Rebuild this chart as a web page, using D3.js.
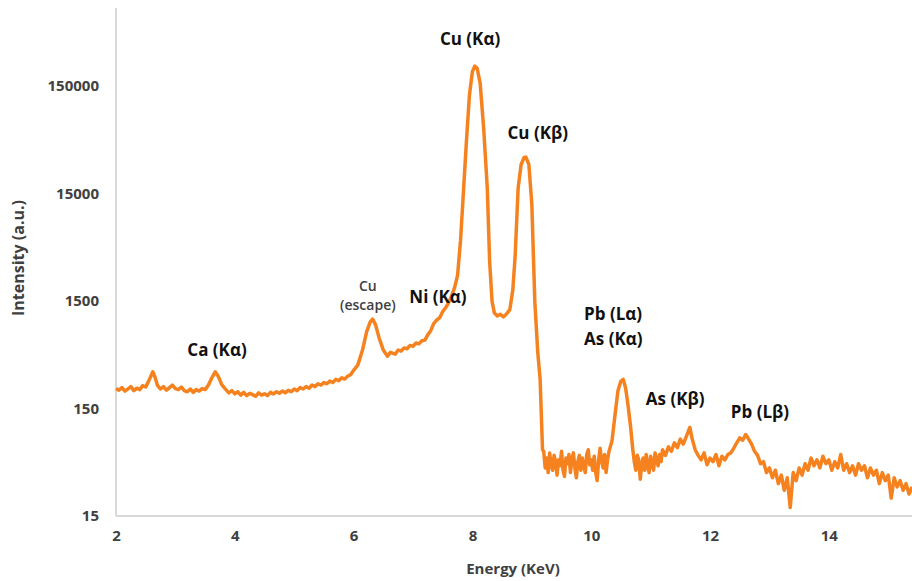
<!DOCTYPE html>
<html>
<head>
<meta charset="utf-8">
<script src="https://cdn.jsdelivr.net/npm/d3@7"></script>
<style>
  body { margin: 0; background: #fff; }
  svg { display: block; font-family: "Open Sans", sans-serif; }
</style>
</head>
<body>
<script>
// spectrum, [energy keV, intensity]
var lowRegion = [
  [2.00, 230], [2.05, 222], [2.10, 235], [2.15, 218], [2.20, 228], [2.25, 240],
  [2.30, 220], [2.35, 232], [2.40, 225], [2.45, 245], [2.50, 238], [2.55, 270],
  [2.62, 330], [2.66, 290], [2.70, 245], [2.75, 228], [2.80, 240], [2.85, 222],
  [2.90, 235], [2.95, 248], [3.00, 230], [3.05, 225], [3.10, 238], [3.15, 220],
  [3.20, 215], [3.25, 228], [3.30, 212], [3.35, 225], [3.40, 218], [3.45, 230],
  [3.50, 225], [3.55, 245], [3.60, 280], [3.67, 330], [3.72, 300], [3.78, 250],
  [3.85, 225], [3.90, 210], [3.95, 220], [4.00, 205], [4.05, 215], [4.10, 200],
  [4.15, 212], [4.20, 198], [4.25, 208], [4.30, 202], [4.35, 195], [4.40, 210],
  [4.45, 200], [4.50, 206], [4.55, 198], [4.60, 212], [4.65, 205], [4.70, 215],
  [4.75, 208], [4.80, 218], [4.85, 210], [4.90, 222], [4.95, 215], [5.00, 228],
  [5.05, 220], [5.10, 235], [5.15, 228], [5.20, 240], [5.25, 232], [5.30, 248],
  [5.35, 240], [5.40, 255], [5.45, 248], [5.50, 262], [5.55, 255], [5.60, 270],
  [5.65, 262], [5.70, 280], [5.75, 272], [5.80, 290], [5.85, 282], [5.90, 300],
  [5.95, 310], [6.00, 340]
];

var cuRegion = [
  [6.07, 380], [6.15, 525], [6.22, 780], [6.28, 960], [6.32, 1020], [6.37, 900],
  [6.43, 680], [6.50, 525], [6.57, 460], [6.62, 500], [6.70, 480], [6.75, 525],
  [6.80, 515], [6.85, 550], [6.90, 540], [6.95, 580], [7.00, 570], [7.05, 610],
  [7.10, 600], [7.15, 640], [7.20, 650], [7.25, 730], [7.30, 800], [7.35, 930],
  [7.40, 1000], [7.45, 1050], [7.50, 1200], [7.55, 1300], [7.60, 1450], [7.65, 1670],
  [7.70, 2000], [7.75, 2600], [7.80, 5500], [7.85, 16000], [7.90, 47000], [7.95, 124000],
  [8.00, 205000], [8.04, 230000], [8.08, 220000], [8.13, 160000], [8.19, 60000],
  [8.25, 17000], [8.29, 3500], [8.33, 1500], [8.37, 1160], [8.42, 1090], [8.47, 1130],
  [8.52, 1070], [8.57, 1130], [8.63, 1250], [8.68, 1900], [8.72, 4000], [8.77, 17000],
  [8.82, 28000], [8.87, 32500], [8.90, 32800], [8.95, 28000], [9.00, 12000],
  [9.05, 1500], [9.10, 500], [9.14, 280], [9.18, 62]
];

var highRegion = [
  [9.200, 60], [9.225, 42], [9.250, 52], [9.275, 38], [9.300, 58], [9.325, 45],
  [9.350, 40], [9.375, 55], [9.400, 48], [9.425, 36], [9.450, 50], [9.475, 44],
  [9.500, 60], [9.525, 40], [9.550, 35], [9.575, 52], [9.600, 46], [9.625, 56],
  [9.650, 38], [9.675, 50], [9.700, 58], [9.725, 42], [9.750, 34], [9.775, 48],
  [9.800, 55], [9.825, 40], [9.850, 52], [9.875, 44], [9.900, 38], [9.925, 56],
  [9.950, 62], [9.975, 45], [10.000, 50], [10.025, 40], [10.050, 54], [10.075, 38],
  [10.100, 32], [10.125, 50], [10.150, 64], [10.175, 48], [10.200, 42], [10.225, 56],
  [10.250, 38], [10.275, 50], [10.300, 60], [10.35, 75], [10.40, 130], [10.45, 220],
  [10.50, 270], [10.54, 280], [10.58, 230], [10.62, 160], [10.66, 105],
  [10.700, 62], [10.725, 48], [10.750, 40], [10.775, 55], [10.800, 50], [10.825, 33],
  [10.850, 45], [10.875, 52], [10.900, 40], [10.925, 56], [10.950, 44], [10.975, 38],
  [11.000, 54], [11.025, 46], [11.050, 40], [11.075, 58], [11.100, 50], [11.125, 44],
  [11.150, 56], [11.175, 48], [11.200, 62], [11.25, 55], [11.30, 66], [11.35, 60],
  [11.40, 72], [11.45, 65], [11.50, 78], [11.55, 70], [11.60, 82], [11.66, 100],
  [11.70, 78], [11.75, 62], [11.80, 55], [11.85, 50], [11.90, 58], [11.95, 45],
  [12.00, 52], [12.05, 48], [12.10, 56], [12.15, 44], [12.20, 54], [12.25, 50],
  [12.30, 56], [12.35, 58], [12.40, 64], [12.45, 72], [12.50, 80], [12.55, 76],
  [12.60, 86], [12.65, 78], [12.70, 70], [12.75, 60], [12.80, 55], [12.85, 46],
  [12.90, 48], [12.95, 38], [13.00, 42], [13.05, 34], [13.10, 40], [13.15, 30],
  [13.20, 36], [13.25, 26], [13.30, 34], [13.35, 18], [13.40, 38], [13.45, 32],
  [13.50, 42], [13.55, 36], [13.60, 46], [13.65, 40], [13.70, 52], [13.75, 44],
  [13.80, 50], [13.85, 42], [13.90, 54], [13.95, 46], [14.00, 50], [14.05, 40],
  [14.10, 48], [14.15, 42], [14.20, 56], [14.25, 40], [14.30, 46], [14.35, 38],
  [14.40, 44], [14.45, 36], [14.50, 46], [14.55, 40], [14.60, 44], [14.65, 34],
  [14.70, 42], [14.75, 36], [14.80, 40], [14.85, 30], [14.90, 38], [14.95, 32],
  [15.00, 36], [15.05, 22], [15.10, 34], [15.15, 28], [15.20, 32], [15.25, 26],
  [15.30, 30], [15.35, 24], [15.40, 28]
];

var xTicks = [2, 4, 6, 8, 10, 12, 14];
var yTicks = [15, 150, 1500, 15000, 150000];

// peak labels, anchored in data units
var peakLabels = [
  { lines: ["Cu (K\u03b1)"], e: 7.96, i: 360000, anchor: "middle" },
  { lines: ["Cu (K\u03b2)"], e: 9.10, i: 48200, anchor: "middle" },
  { lines: ["Ni (K\u03b1)"], e: 7.42, i: 1437, anchor: "middle" },
  { lines: ["Ca (K\u03b1)"], e: 3.70, i: 462, anchor: "middle" },
  { lines: ["Pb (L\u03b1)", "As (K\u03b1)"], e: 9.88, i: 1000, anchor: "start" },
  { lines: ["As (K\u03b2)"], e: 10.92, i: 162, anchor: "start" },
  { lines: ["Pb (L\u03b2)"], e: 12.35, i: 122, anchor: "start" }
];
var escapeLabel = { lines: ["Cu", "(escape)"], e: 6.24, i: 1850 };

var width = 912, height = 581;
var plotLeft = 116, plotRight = 912, plotTop = 8, plotBottom = 516;

var svg = d3.select("body").append("svg")
  .attr("width", width)
  .attr("height", height);

var x = d3.scaleLinear().domain([2, 15.4]).range([plotLeft, plotRight]);
var y = d3.scaleLog().domain([15, 800000]).range([plotBottom, plotTop]);

// axis lines
svg.append("line")
  .attr("x1", plotLeft).attr("x2", plotLeft).attr("y1", plotTop).attr("y2", plotBottom)
  .attr("stroke", "#d9d9d9").attr("stroke-width", 2);
svg.append("line")
  .attr("x1", plotLeft).attr("x2", plotRight).attr("y1", plotBottom).attr("y2", plotBottom)
  .attr("stroke", "#d9d9d9").attr("stroke-width", 2);

var xAxis = svg.append("g")
  .attr("transform", "translate(0," + plotBottom + ")")
  .call(d3.axisBottom(x).tickValues(xTicks).tickSize(0).tickPadding(14).tickFormat(d3.format("d")));
var yAxis = svg.append("g")
  .attr("transform", "translate(" + plotLeft + ",0)")
  .call(d3.axisLeft(y).tickValues(yTicks).tickSize(0).tickPadding(17).tickFormat(d3.format("d")));

[xAxis, yAxis].forEach(function(g) {
  g.select(".domain").remove();
  g.selectAll("text")
    .attr("fill", "#404040")
    .style("font-size", "15px")
    .style("font-weight", 700)
    .style("font-family", "Open Sans, sans-serif");
});

// spectrum
var spectrum = lowRegion.concat(cuRegion, highRegion);
var line = d3.line()
  .x(function(d) { return x(d[0]); })
  .y(function(d) { return y(d[1]); });

svg.append("path")
  .datum(spectrum)
  .attr("fill", "none")
  .attr("stroke", "#f5821f")
  .attr("stroke-width", 3.5)
  .attr("stroke-linejoin", "round")
  .attr("d", line);

// peak labels
peakLabels.forEach(function(p) {
  var t = svg.append("text")
    .attr("x", x(p.e))
    .attr("y", y(p.i))
    .attr("text-anchor", p.anchor)
    .attr("fill", "#111")
    .style("font-size", "17px")
    .style("font-weight", 700);
  p.lines.forEach(function(s, k) {
    t.append("tspan").attr("x", x(p.e)).attr("dy", k ? 25 : 0).text(s);
  });
});

var esc = svg.append("text")
  .attr("x", x(escapeLabel.e))
  .attr("y", y(escapeLabel.i))
  .attr("text-anchor", "middle")
  .attr("fill", "#404040")
  .style("font-size", "14px")
  .style("font-weight", 600);
escapeLabel.lines.forEach(function(s, k) {
  esc.append("tspan").attr("x", x(escapeLabel.e)).attr("dy", k ? 19 : 0).text(s);
});

// axis titles
svg.append("text")
  .attr("x", 513).attr("y", 574)
  .attr("text-anchor", "middle")
  .attr("fill", "#404040")
  .style("font-size", "15px").style("font-weight", 700)
  .text("Energy (KeV)");
svg.append("text")
  .attr("transform", "translate(24,258) rotate(-90)")
  .attr("text-anchor", "middle")
  .attr("fill", "#404040")
  .style("font-size", "16px").style("font-weight", 700)
  .text("Intensity (a.u.)");
</script>
</body>
</html>
